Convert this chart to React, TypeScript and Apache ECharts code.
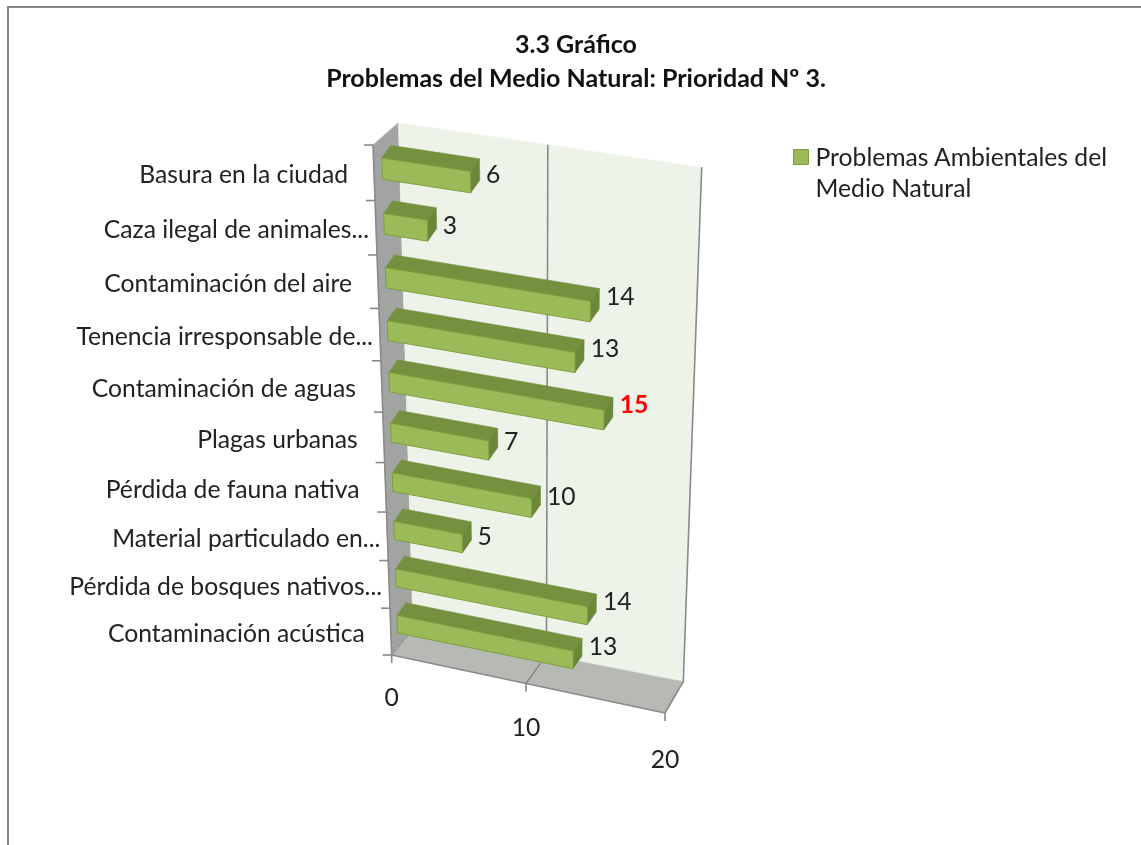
import React, { useEffect, useRef } from "react";
import * as echarts from "echarts";

const titleLines = ["3.3 Gráfico", "Problemas del Medio Natural: Prioridad Nº 3."];
const seriesName = "Problemas Ambientales del\nMedio Natural";
const categories = [
  "Basura en la ciudad",
  "Caza ilegal de animales...",
  "Contaminación del aire",
  "Tenencia irresponsable de...",
  "Contaminación de aguas",
  "Plagas urbanas",
  "Pérdida de fauna nativa",
  "Material particulado en...",
  "Pérdida de bosques nativos...",
  "Contaminación acústica",
];
const values = [6, 3, 14, 13, 15, 7, 10, 5, 14, 13];
const valueTicks = [0, 10, 20];

type Pt = [number, number];
type Quad = [Pt, Pt, Pt, Pt];

// Unit square -> quadrilateral (TL, TR, BR, BL): the chart's 3D view.
function quadMap(q: Quad) {
  const [[x0, y0], [x1, y1], [x2, y2], [x3, y3]] = q;
  const dx1 = x1 - x2, dx2 = x3 - x2, sx = x0 - x1 + x2 - x3;
  const dy1 = y1 - y2, dy2 = y3 - y2, sy = y0 - y1 + y2 - y3;
  const den = dx1 * dy2 - dx2 * dy1;
  const g = (sx * dy2 - dx2 * sy) / den;
  const h = (dx1 * sy - sx * dy1) / den;
  const a = x1 - x0 + g * x1, b = x3 - x0 + h * x3;
  const d = y1 - y0 + g * y1, e = y3 - y0 + h * y3;
  return (u: number, v: number): Pt => {
    const w = g * u + h * v + 1;
    return [(a * u + b * v + x0) / w, (d * u + e * v + y0) / w];
  };
}

const frontPlane = quadMap([[373, 145], [674, 189], [665, 713], [391.7, 655]]);
const backPlane = quadMap([[398.3, 122.7], [701.7, 167.3], [683.3, 681.7], [413, 629]]);
const barPlane = quadMap([[381.2, 140.6], [685, 186], [670, 703], [398, 647]]);
const BAR_DEPTH: Pt = [9, -12.7];
const BAR_HALF = 0.19;

const GRID = { left: 100, top: 100, width: 500, height: 500 };
const FONT = "Lato, 'Noto Sans', sans-serif";
const LINE = "#8a8a8a";
const TEXT = "#222222";

const toUV = (api: any, value: number, cat: number): Pt => {
  const [px, py] = api.coord([value, cat]);
  return [(px - GRID.left) / GRID.width, (py - GRID.top) / GRID.height];
};

const poly = (points: Pt[], fill: string, stroke?: string) => ({
  type: "polygon",
  shape: { points },
  style: { fill, stroke: stroke ?? fill, lineWidth: stroke ? 1 : 0.5 },
});
const seg = (a: Pt, b: Pt, lineWidth = 1.6) => ({
  type: "line",
  shape: { x1: a[0], y1: a[1], x2: b[0], y2: b[1] },
  style: { stroke: LINE, lineWidth },
});
const label = (x: number, y: number, text: string, align: string, fill = TEXT, weight = "normal") => ({
  type: "text",
  style: {
    x, y, text, fill,
    textAlign: align, textVerticalAlign: "middle",
    fontFamily: FONT, fontSize: 24.7, fontWeight: weight,
  },
});

function renderScene(_: any, api: any) {
  const n = categories.length;
  const children: any[] = [];
  // walls and floor
  children.push(poly([frontPlane(0, 0), backPlane(0, 0), backPlane(0, 1), frontPlane(0, 1)], "#a2a4a2"));
  children.push(poly([backPlane(0, 0), backPlane(1, 0), backPlane(1, 1), backPlane(0, 1)], "#eef3ea"));
  children.push(poly([frontPlane(0, 1), backPlane(0, 1), backPlane(1, 1), frontPlane(1, 1)], "#b7b9b5"));
  // edges
  children.push(seg(frontPlane(0, 0), frontPlane(0, 1)));
  children.push(seg(backPlane(1, 0), backPlane(1, 1)));
  children.push(seg(frontPlane(0, 1), frontPlane(1, 1)));
  children.push(seg(frontPlane(1, 1), backPlane(1, 1)));
  children.push(seg(frontPlane(0, 1), backPlane(0, 1), 1));
  // category ticks
  for (let i = 0; i <= n; i++) {
    const p = frontPlane(0, i / n);
    children.push(seg([p[0] - 9, p[1]], p));
  }
  // value ticks, gridlines, labels
  valueTicks.forEach((t) => {
    const [u] = toUV(api, t, 0);
    const f = frontPlane(u, 1);
    const b = backPlane(u, 1);
    children.push(seg(f, [f[0], f[1] + 8]));
    if (t > 0 && t < valueTicks[valueTicks.length - 1]) {
      children.push(seg(f, b));
      children.push(seg(b, backPlane(u, 0)));
    }
    children.push(label(f[0], f[1] + 41.5 + t * 0.2, String(t), "center"));
  });
  // category labels
  categories.forEach((c, i) => {
    const [, v] = toUV(api, 0, i);
    const p = frontPlane(0, v);
    const gap = c.endsWith("...") ? 7 : 26;
    children.push(label(p[0] - gap, p[1] + 1, c, "right"));
  });
  return { type: "group", children };
}

function renderBar(_: any, api: any) {
  const val = api.value(0);
  const cat = api.value(1);
  const [u0, v] = toUV(api, 0, cat);
  const [u1] = toUV(api, val, cat);
  const half = (BAR_HALF * api.size([0, 1])[1]) / GRID.height;
  const a = barPlane(u0, v - half);
  const b = barPlane(u1, v - half);
  const c = barPlane(u1, v + half);
  const d = barPlane(u0, v + half);
  const back = (p: Pt): Pt => [p[0] + BAR_DEPTH[0], p[1] + BAR_DEPTH[1]];
  const isMax = val === Math.max(...values);
  const lx = (b[0] + c[0]) / 2 + BAR_DEPTH[0] + 6 + val * 0.05;
  const ly = (b[1] + c[1]) / 2 + BAR_DEPTH[1] / 2 + 2.5 - val * 0.85;
  return {
    type: "group",
    children: [
      poly([a, b, back(b), back(a)], "#75903f"),
      poly([b, back(b), back(c), c], "#6c8739"),
      poly([a, b, c, d], "#9bbb59", "#7f9f3e"),
      label(lx, ly, String(val), "left", isMax ? "#ff0000" : TEXT, isMax ? "bold" : "normal"),
    ],
  };
}

export default function App() {
  const ref = useRef<HTMLDivElement>(null);
  useEffect(() => {
    const chart = echarts.init(ref.current!, undefined, { renderer: "svg" });
    chart.setOption({
      animation: false,
      backgroundColor: "#ffffff",
      color: ["#9bbb59"],
      title: {
        text: titleLines.join("\n"),
        left: 571,
        top: 21,
        textAlign: "center",
        textStyle: { fontFamily: FONT, fontSize: 25, fontWeight: "bold", color: "#111111", lineHeight: 34 },
      },
      legend: {
        data: [seriesName],
        left: 788,
        top: 136,
        orient: "vertical",
        itemWidth: 15,
        itemHeight: 45,
        itemGap: 0,
        icon: "path://M0 0L15 0L15 15L0 15Z M0 45L0 45",
        itemStyle: { color: "#9bbb59", borderColor: "#7f9f3e", borderWidth: 1 },
        textStyle: { fontFamily: FONT, fontSize: 24.7, color: TEXT, lineHeight: 31, padding: [0, 0, 0, 2] },
      },
      grid: GRID,
      xAxis: { type: "value", min: 0, max: 20, interval: 10, show: false },
      yAxis: { type: "category", data: categories, inverse: true, show: false },
      graphic: [
        {
          type: "rect",
          shape: { x: 8, y: 7, width: 1300, height: 1000 },
          style: { fill: "none", stroke: "#868686", lineWidth: 2 },
          z: -1,
        },
      ],
      series: [
        {
          type: "custom",
          name: "escena",
          silent: true,
          data: [[0, 0]],
          renderItem: renderScene,
          z: 1,
        },
        {
          type: "custom",
          name: seriesName,
          itemStyle: { color: "#9bbb59" },
          encode: { x: 0, y: 1 },
          data: values.map((v, i) => [v, i]),
          renderItem: renderBar,
          z: 2,
        },
      ],
    });
    return () => chart.dispose();
  }, []);
  return <div ref={ref} style={{ position: "absolute", left: 0, top: 0, width: 1141, height: 845, filter: "blur(0.4px)" }} />;
}
